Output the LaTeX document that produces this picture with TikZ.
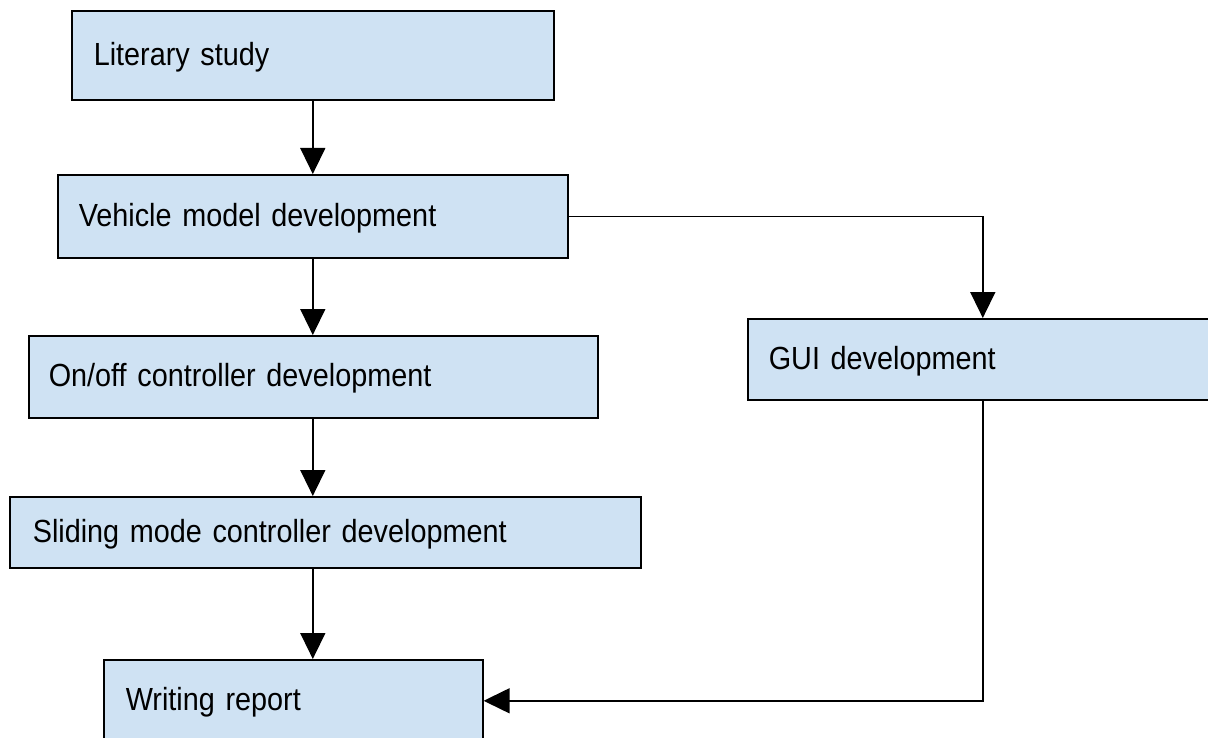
\documentclass[tikz,border=0pt]{standalone}
\usepackage{fontspec}
\setmainfont{Liberation Sans}
\newfontfamily\boxfont[FakeStretch=0.9]{Liberation Sans}
\newcommand\myboxfontsel{\boxfont\fontsize{32}{36}\selectfont\spaceskip 7.5pt plus 2pt minus 1pt\relax}
\usetikzlibrary{arrows.meta}
\definecolor{boxfill}{RGB}{207,226,243}
\begin{document}
\begin{tikzpicture}[x=1pt,y=-1pt,
  box/.style={draw=black, line width=1.6pt, fill=boxfill, anchor=north west,
    align=left, inner ysep=0pt, text height=26pt, text depth=6pt,
    font=\myboxfontsel},
  conn/.style={line width=1.5pt, -{Triangle[length=26pt,width=25pt]}}]
\useasboundingbox (0,0) rectangle (1208,738);
\clip (0,0) rectangle (1208,738);
\fill[white] (0,0) rectangle (1208,738);
\node[box, minimum width=482pt, minimum height=89pt, inner xsep=22pt, text width=438pt] (lit) at (71,10) {Literary study};
\node[box, minimum width=510pt, minimum height=83pt, inner xsep=21pt, text width=468pt] (veh) at (57,174) {Vehicle model development};
\node[box, minimum width=569pt, minimum height=82pt, inner xsep=20pt, text width=529pt] (onoff) at (28,335) {On/off controller development};
\node[box, minimum width=470pt, minimum height=81pt, inner xsep=21pt, text width=428pt] (gui) at (747,318) {GUI development};
\node[box, minimum width=631pt, minimum height=71pt, inner xsep=23pt, text width=585pt] (slid) at (9,496) {Sliding mode controller development};
\node[box, minimum width=379pt, minimum height=82pt, inner xsep=22pt, text width=335pt] (wr) at (103,659) {Writing report};
\draw[conn] (lit.south) -- (lit.south |- veh.north);
\draw[conn] (lit.south |- veh.south) -- (lit.south |- onoff.north);
\draw[conn] (lit.south |- onoff.south) -- (lit.south |- slid.north);
\draw[conn] (lit.south |- slid.south) -- (lit.south |- wr.north);
\draw[conn] (veh.east) -| (gui.north);
\draw[conn] (gui.south) |- (wr.east);
\end{tikzpicture}
\end{document}
